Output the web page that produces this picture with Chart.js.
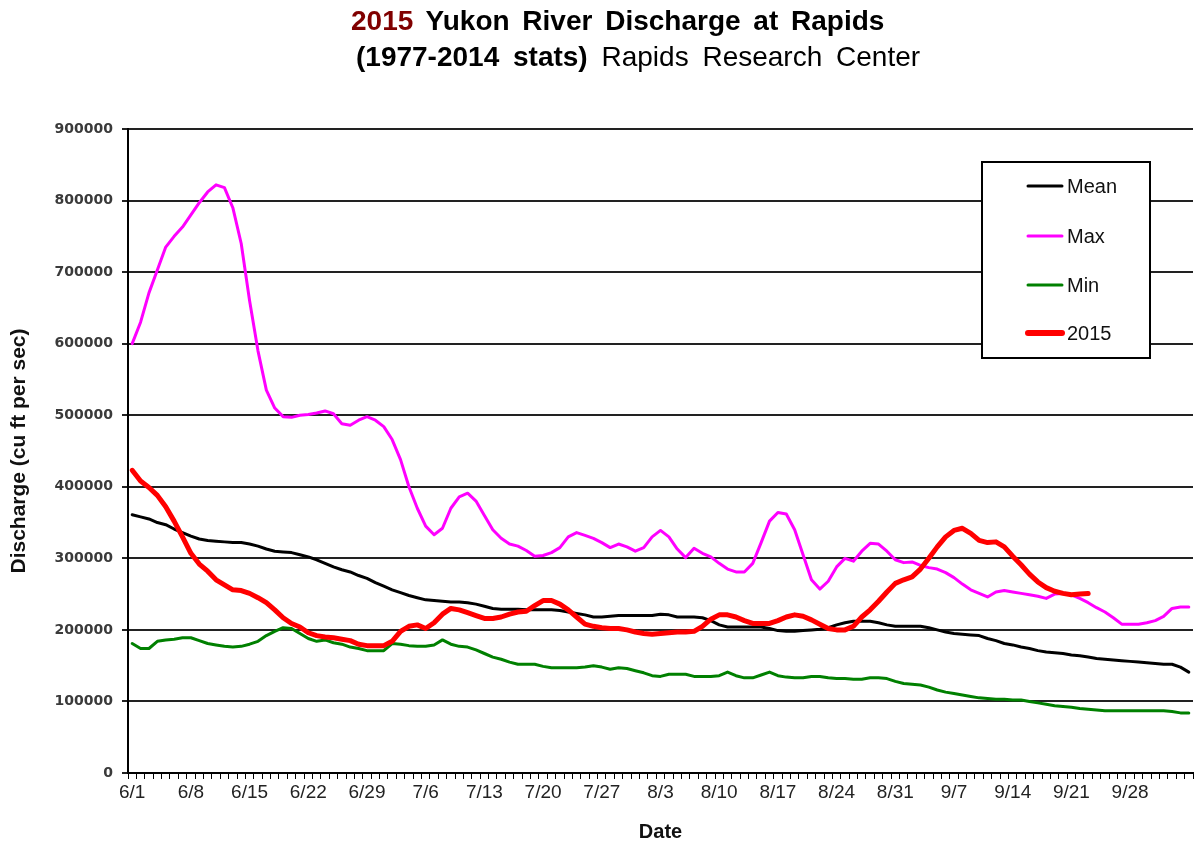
<!DOCTYPE html>
<html><head><meta charset="utf-8">
<script src="https://cdn.jsdelivr.net/npm/chart.js@4.4.1/dist/chart.umd.min.js"></script>
<style>
html,body{margin:0;padding:0;background:#fff;}
#wrap{position:relative;width:1201px;height:850px;overflow:hidden;}
canvas{position:absolute;left:0;top:0;}
.t{position:absolute;white-space:nowrap;font-family:Arial,"Liberation Sans",sans-serif;font-size:28px;color:#000;line-height:32px;}
#t1{left:351px;top:5px;font-weight:bold;word-spacing:5px;}
#t2{left:356px;top:41px;word-spacing:6px;}
</style></head><body>
<div id="wrap">
<canvas id="c" width="1201" height="850"></canvas>
<div class="t" id="t1"><span style="color:#800000">2015</span> Yukon River Discharge at Rapids</div>
<div class="t" id="t2"><b>(1977-2014 stats)</b> Rapids Research Center</div>
</div>
<script>
const dates = ['6/1','6/2','6/3','6/4','6/5','6/6','6/7','6/8','6/9','6/10','6/11','6/12','6/13','6/14','6/15','6/16','6/17','6/18','6/19','6/20','6/21','6/22','6/23','6/24','6/25','6/26','6/27','6/28','6/29','6/30',
'7/1','7/2','7/3','7/4','7/5','7/6','7/7','7/8','7/9','7/10','7/11','7/12','7/13','7/14','7/15','7/16','7/17','7/18','7/19','7/20','7/21','7/22','7/23','7/24','7/25','7/26','7/27','7/28','7/29','7/30','7/31',
'8/1','8/2','8/3','8/4','8/5','8/6','8/7','8/8','8/9','8/10','8/11','8/12','8/13','8/14','8/15','8/16','8/17','8/18','8/19','8/20','8/21','8/22','8/23','8/24','8/25','8/26','8/27','8/28','8/29','8/30','8/31',
'9/1','9/2','9/3','9/4','9/5','9/6','9/7','9/8','9/9','9/10','9/11','9/12','9/13','9/14','9/15','9/16','9/17','9/18','9/19','9/20','9/21','9/22','9/23','9/24','9/25','9/26','9/27','9/28','9/29','9/30',
'10/1','10/2','10/3','10/4','10/5'];

const tickLabels = ['6/1','6/8','6/15','6/22','6/29','7/6','7/13','7/20','7/27','8/3','8/10','8/17','8/24','8/31','9/7','9/14','9/21','9/28'];

const yTicks = [0,100000,200000,300000,400000,500000,600000,700000,800000,900000];

const meanValues = [361000,358000,355000,350000,347000,341000,336000,331000,327000,325000,
324000,323000,322000,322000,320000,317000,313000,310000,309000,308000,
305000,302000,298000,293000,288000,284000,281000,276000,272000,266000,
261000,256000,252000,248000,245000,242000,241000,240000,239000,239000,
238000,236000,233000,230000,229000,229000,229000,228000,228000,228000,
228000,227000,225000,223000,221000,218000,218000,219000,220000,220000,
220000,220000,220000,222000,221000,218000,218000,218000,217000,213000,
207000,204000,204000,204000,204000,204000,202000,199000,198000,198000,
199000,200000,201000,203000,207000,210000,212000,212000,212000,210000,
207000,205000,205000,205000,205000,203000,200000,197000,195000,194000,
193000,192000,188000,185000,181000,179000,176000,174000,171000,169000,
168000,167000,165000,164000,162000,160000,159000,158000,157000,156000,
155000,154000,153000,152000,152000,148000,141000];

const maxValues = [600000,630000,671000,703000,735000,750000,763000,780000,797000,812000,
822000,818000,790000,740000,660000,590000,535000,510000,498000,497000,
500000,501000,503000,506000,502000,488000,486000,493000,498000,493000,
484000,466000,438000,400000,370000,345000,333000,342000,370000,386000,
391000,380000,360000,340000,328000,320000,317000,311000,303000,304000,
308000,315000,330000,336000,332000,328000,322000,315000,320000,316000,
310000,315000,330000,339000,330000,313000,301000,314000,307000,302000,
293000,285000,281000,281000,293000,322000,352000,364000,362000,340000,
305000,270000,257000,268000,288000,300000,296000,310000,321000,320000,
310000,298000,294000,295000,290000,287000,285000,280000,273000,264000,
256000,251000,246000,253000,255000,253000,251000,249000,247000,244000,
250000,251000,249000,244000,238000,231000,225000,217000,208000,208000,
208000,210000,213000,219000,230000,232000,232000];

const minValues = [181000,174000,174000,184000,186000,187000,189000,189000,185000,181000,
179000,177000,176000,177000,180000,184000,192000,198000,203000,202000,
195000,188000,184000,186000,182000,180000,176000,174000,171000,171000,
171000,181000,180000,178000,177000,177000,179000,186000,180000,177000,
176000,172000,167000,162000,159000,155000,152000,152000,152000,149000,
147000,147000,147000,147000,148000,150000,148000,145000,147000,146000,
143000,140000,136000,135000,138000,138000,138000,135000,135000,135000,
136000,141000,136000,133000,133000,137000,141000,136000,134000,133000,
133000,135000,135000,133000,132000,132000,131000,131000,133000,133000,
132000,128000,125000,124000,123000,120000,116000,113000,111000,109000,
107000,105000,104000,103000,103000,102000,102000,100000,98000,96000,
94000,93000,92000,90000,89000,88000,87000,87000,87000,87000,
87000,87000,87000,87000,86000,84000,84000];

const values2015 = [423000,408000,399000,388000,372000,352000,330000,307000,292000,282000,
270000,263000,256000,255000,251000,245000,238000,228000,217000,209000,
204000,196000,192000,190000,189000,187000,185000,180000,178000,178000,
178000,184000,198000,205000,207000,202000,210000,222000,230000,228000,
224000,220000,216000,216000,218000,222000,225000,226000,234000,241000,
241000,236000,228000,218000,208000,205000,203000,202000,202000,200000,
197000,195000,194000,195000,196000,197000,197000,198000,205000,215000,
221000,221000,218000,213000,209000,209000,209000,213000,218000,221000,
219000,214000,208000,202000,200000,200000,205000,218000,228000,240000,
253000,265000,270000,274000,285000,300000,316000,330000,339000,342000,
335000,325000,322000,323000,316000,303000,291000,278000,267000,259000,
254000,251000,249000,250000,251000];

const seriesNames = ['Mean','Max','Min','2015'];

const legendPlugin = {
  id: 'boxLegend',
  afterDraw(chart) {
    const ctx = chart.ctx;
    const x0 = 982, y0 = 162, w = 168, h = 196;
    ctx.save();
    ctx.fillStyle = '#fff';
    ctx.fillRect(x0, y0, w, h);
    ctx.strokeStyle = '#000';
    ctx.lineWidth = 2;
    ctx.strokeRect(x0, y0, w, h);
    const rows = [186, 236, 285, 333];
    ctx.font = '20px Arial, "Liberation Sans", sans-serif';
    ctx.textBaseline = 'middle';
    ctx.textAlign = 'left';
    seriesNames.forEach((name, k) => {
      const ds = chart.data.datasets.find(d => d.label === name);
      ctx.strokeStyle = ds.borderColor;
      ctx.lineWidth = ds.borderWidth + (name === '2015' ? 1 : 0);
      ctx.lineCap = 'round';
      ctx.beginPath();
      ctx.moveTo(1028, rows[k]);
      ctx.lineTo(1062, rows[k]);
      ctx.stroke();
      ctx.fillStyle = '#111';
      ctx.fillText(name, 1067, rows[k] + 1);
    });
    ctx.restore();
  }
};

new Chart(document.getElementById('c'), {
  type: 'line',
  data: {
    labels: dates,
    datasets: [
      {label: 'Mean', data: meanValues, borderColor: '#000000', borderWidth: 3, order: 3},
      {label: 'Max', data: maxValues, borderColor: '#ff00ff', borderWidth: 3, order: 2},
      {label: 'Min', data: minValues, borderColor: '#008000', borderWidth: 3, order: 1},
      {label: '2015', data: values2015, borderColor: '#ff0000', borderWidth: 5, order: 0}
    ]
  },
  options: {
    responsive: false,
    animation: false,
    devicePixelRatio: 1,
    layout: {padding: {top: 129, right: 8, left: 0, bottom: 0}},
    elements: {point: {radius: 0}, line: {tension: 0, borderJoinStyle: 'round', borderCapStyle: 'round'}},
    plugins: {legend: {display: false}, tooltip: {enabled: false}, title: {display: false}},
    scales: {
      x: {
        type: 'category',
        offset: true,
        afterFit(s) { s.height = 77; },
        border: {display: true, color: '#000', width: 2},
        grid: {drawOnChartArea: false, drawTicks: true, tickLength: 6, color: '#000', lineWidth: 1, offset: true},
        ticks: {
          autoSkip: false, maxRotation: 0, minRotation: 0, padding: 2,
          color: '#222',
          font: {family: 'Arial, "Liberation Sans", sans-serif', size: 19},
          callback(v, i) { const l = dates[i]; return tickLabels.includes(l) ? l : ''; }
        },
        title: {display: true, text: 'Date', color: '#111',
          font: {family: 'Arial, "Liberation Sans", sans-serif', size: 20, weight: 'bold'},
          padding: {top: 0, bottom: 6}}
      },
      y: {
        min: 0, max: 900000,
        afterFit(s) { s.width = 128; },
        afterBuildTicks(s) { s.ticks = yTicks.map(v => ({value: v})); },
        border: {display: true, color: '#000', width: 2},
        grid: {color: '#222', lineWidth: 2, drawTicks: true, tickLength: 6},
        ticks: {
          padding: 9, color: '#3a3a3a',
          font: {family: '"DejaVu Sans", sans-serif', size: 14, weight: 'bold'},
          callback(v) { return String(v); }
        },
        title: {display: true, text: 'Discharge (cu ft per sec)', color: '#111',
          font: {family: 'Arial, "Liberation Sans", sans-serif', size: 21, weight: 'bold'},
          padding: {top: 7, bottom: 0}}
      }
    }
  },
  plugins: [legendPlugin]
});
</script>
</body></html>
